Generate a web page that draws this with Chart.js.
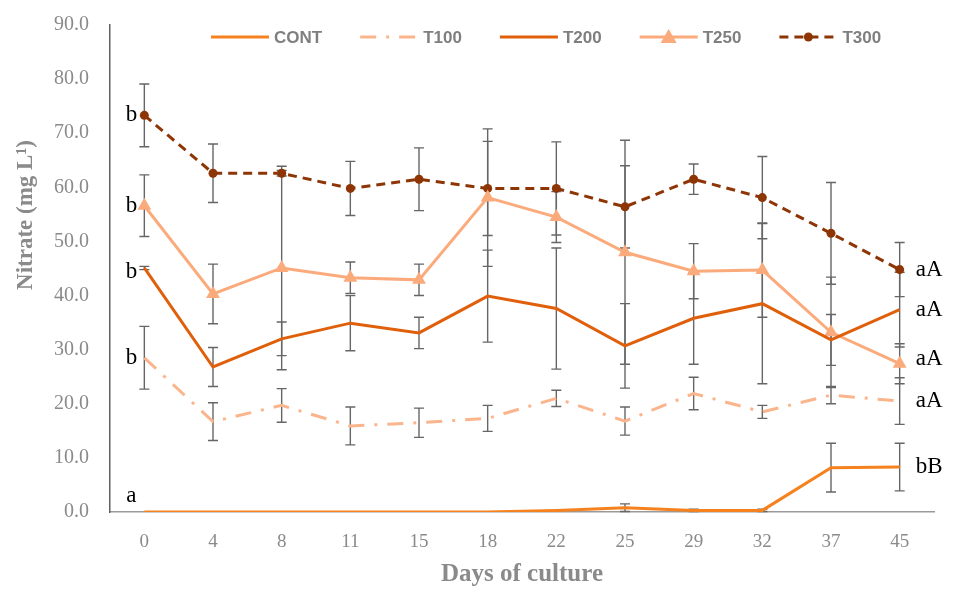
<!DOCTYPE html>
<html lang="en">
<head>
  <meta charset="UTF-8" />
  <title>Nitrate</title>
  <script src="https://cdn.jsdelivr.net/npm/chart.js"></script>
  <style>
    body { margin: 0; background: #fff; }
  </style>
</head>
<body>
  <canvas id="nitrateChart" width="953" height="590"></canvas>

  <script>
    // days of culture
    const days = ['0', '4', '8', '11', '15', '18', '22', '25', '29', '32', '37', '45'];
    const yTicks = [0, 10, 20, 30, 40, 50, 60, 70, 80, 90];

    const seriesNames = ['CONT', 'T100', 'T200', 'T250', 'T300'];

    const cont = [0, 0, 0, 0, 0, 0, 0.3, 0.8, 0.3, 0.3, 8.2, 8.3];
    const t100 = [28.5, 16.7, 19.7, 15.9, 16.5, 17.3, 21.0, 16.8, 21.9, 18.5, 21.6, 20.5];
    const t200 = [45.1, 26.8, 32.0, 34.9, 33.1, 39.9, 37.6, 30.7, 35.8, 38.5, 31.8, 37.4];
    const t250 = [56.6, 40.3, 45.1, 43.3, 42.9, 58.1, 54.5, 48.0, 44.5, 44.7, 33.2, 27.4];
    const t300 = [73.3, 62.6, 62.6, 59.8, 61.5, 59.8, 59.8, 56.4, 61.5, 58.1, 51.5, 44.8];

    // +/- error
    const contErr = [0, 0, 0, 0, 0, 0, 0, 0.7, 0.2, 0.2, 4.5, 4.4];
    const t100Err = [5.8, 3.5, 3.1, 3.5, 2.7, 2.4, 1.5, 2.6, 3.0, 1.2, 1.6, 4.3];
    const t200Err = [0.3, 3.6, 3.1, 5.1, 2.9, 8.5, 11.2, 7.8, 8.5, 14.8, 4.7, 6.9];
    const t250Err = [5.7, 5.5, 18.8, 2.9, 2.9, 12.7, 4.7, 20.7, 5.1, 8.7, 10.2, 3.7];
    const t300Err = [5.8, 5.4, 0.5, 5.0, 5.8, 8.7, 8.6, 7.6, 2.8, 7.6, 9.4, 5.0];

    // significance letters at first and last day
    const firstLetters = ['a', 'b', 'b', 'b', 'b'];
    const lastLetters = ['bB', 'aA', 'aA', 'aA', 'aA'];

    const errors = [contErr, t100Err, t200Err, t250Err, t300Err];

    const serif = '"Liberation Serif", "DejaVu Serif", serif';
    const gray = '#8a8a8a';

    const errorBars = {
      id: 'errorBars',
      beforeDatasetsDraw(chart) {
        const ctx = chart.ctx;
        const y = chart.scales.y;
        ctx.save();
        ctx.strokeStyle = '#666';
        ctx.lineWidth = 1.4;
        chart.data.datasets.forEach((ds, i) => {
          const meta = chart.getDatasetMeta(i);
          meta.data.forEach((pt, j) => {
            const e = errors[i][j];
            if (!e) return;
            const top = y.getPixelForValue(ds.data[j] + e);
            const bot = y.getPixelForValue(Math.max(0, ds.data[j] - e));
            ctx.beginPath();
            ctx.moveTo(pt.x, top); ctx.lineTo(pt.x, bot);
            ctx.moveTo(pt.x - 5, top); ctx.lineTo(pt.x + 5, top);
            ctx.moveTo(pt.x - 5, bot); ctx.lineTo(pt.x + 5, bot);
            ctx.stroke();
          });
        });
        ctx.restore();
      }
    };

    const letters = {
      id: 'letters',
      afterDatasetsDraw(chart) {
        const ctx = chart.ctx;
        ctx.save();
        ctx.fillStyle = '#000';
        ctx.font = '23px ' + serif;
        ctx.textBaseline = 'middle';
        chart.data.datasets.forEach((ds, i) => {
          const meta = chart.getDatasetMeta(i);
          const first = meta.data[0];
          const last = meta.data[meta.data.length - 1];
          if (i === 0) {
            ctx.textAlign = 'center';
            ctx.fillText(firstLetters[i], first.x - 13, first.y - 16);
          } else {
            ctx.textAlign = 'right';
            ctx.fillText(firstLetters[i], first.x - 7, first.y + (i === 2 ? 4 : 0));
          }
          ctx.textAlign = 'left';
          ctx.fillText(lastLetters[i], last.x + 16, last.y + (i === 3 ? -5 : 0));
        });
        ctx.restore();
      }
    };

    const customLegend = {
      id: 'customLegend',
      afterDraw(chart) {
        const ctx = chart.ctx;
        ctx.save();
        ctx.font = 'bold 17px "Liberation Sans Narrow", "Liberation Sans", sans-serif';
        ctx.textBaseline = 'middle';
        let x = 211;
        const y = 37;
        chart.data.datasets.forEach(ds => {
          ctx.strokeStyle = ds.borderColor;
          ctx.lineWidth = 3;
          ctx.setLineDash(ds.borderDash || []);
          ctx.beginPath();
          ctx.moveTo(x, y); ctx.lineTo(x + 58, y);
          ctx.stroke();
          ctx.setLineDash([]);
          ctx.fillStyle = ds.borderColor;
          if (ds.pointStyle === 'triangle') {
            ctx.beginPath();
            ctx.moveTo(x + 29, y - 8); ctx.lineTo(x + 37, y + 6); ctx.lineTo(x + 21, y + 6);
            ctx.closePath(); ctx.fill();
          } else if (ds.pointRadius > 0) {
            ctx.beginPath();
            ctx.arc(x + 29, y, 4.5, 0, Math.PI * 2);
            ctx.fill();
          }
          ctx.fillStyle = '#7f7f7f';
          ctx.fillText(ds.label, x + 63, y + 1);
          x += 63 + ctx.measureText(ds.label).width + 38;
        });
        ctx.restore();
      }
    };

    const yTitle = {
      id: 'yTitle',
      afterDraw(chart) {
        const ctx = chart.ctx;
        ctx.save();
        ctx.translate(26, 215);
        ctx.rotate(-Math.PI / 2);
        ctx.font = 'bold 23px ' + serif;
        ctx.fillStyle = gray;
        ctx.textAlign = 'center';
        ctx.textBaseline = 'middle';
        ctx.fillText('Nitrate (mg L\u00B9)', 0, 0);
        ctx.restore();
      }
    };

    new Chart(document.getElementById('nitrateChart'), {
      type: 'line',
      data: {
        labels: days,
        datasets: [
          {
            label: seriesNames[0],
            data: cont,
            borderColor: '#F5821F',
            backgroundColor: '#F5821F',
            borderWidth: 3,
            pointRadius: 0
          },
          {
            label: seriesNames[1],
            data: t100,
            borderColor: '#FBB58C',
            backgroundColor: '#FBB58C',
            borderWidth: 3,
            borderDash: [16, 10, 3, 10],
            pointRadius: 0
          },
          {
            label: seriesNames[2],
            data: t200,
            borderColor: '#DF5F0B',
            backgroundColor: '#DF5F0B',
            borderWidth: 3,
            pointRadius: 0
          },
          {
            label: seriesNames[3],
            data: t250,
            borderColor: '#FBAA7B',
            backgroundColor: '#FBAA7B',
            borderWidth: 3,
            pointStyle: 'triangle',
            pointRadius: 8,
            pointBorderWidth: 0
          },
          {
            label: seriesNames[4],
            data: t300,
            borderColor: '#8E3505',
            backgroundColor: '#8E3505',
            borderWidth: 3,
            borderDash: [9, 6],
            pointStyle: 'circle',
            pointRadius: 4.5,
            pointBorderWidth: 0
          }
        ]
      },
      options: {
        responsive: false,
        animation: false,
        layout: { padding: { top: 19, right: 19, left: 0, bottom: 0 } },
        plugins: {
          legend: { display: false },
          tooltip: { enabled: false }
        },
        scales: {
          x: {
            offset: true,
            grid: { display: false },
            border: { display: true, color: '#9a9a9a', width: 1.5 },
            ticks: { color: gray, font: { family: serif, size: 19 }, padding: 11 },
            title: {
              display: true,
              text: 'Days of culture',
              color: gray,
              font: { family: serif, size: 25, weight: 'bold' },
              padding: { top: 0, bottom: 0 }
            },
            afterFit: s => { s.height = 78; }
          },
          y: {
            min: 0,
            max: 90,
            grid: { display: false },
            border: { display: true, color: '#606060', width: 1.5 },
            afterBuildTicks: s => { s.ticks = yTicks.map(v => ({ value: v })); },
            ticks: {
              color: gray,
              font: { family: serif, size: 20 },
              padding: 13,
              callback: v => v.toFixed(1)
            },
            afterFit: s => { s.width = 110; }
          }
        }
      },
      plugins: [errorBars, letters, customLegend, yTitle]
    });
  </script>
</body>
</html>
